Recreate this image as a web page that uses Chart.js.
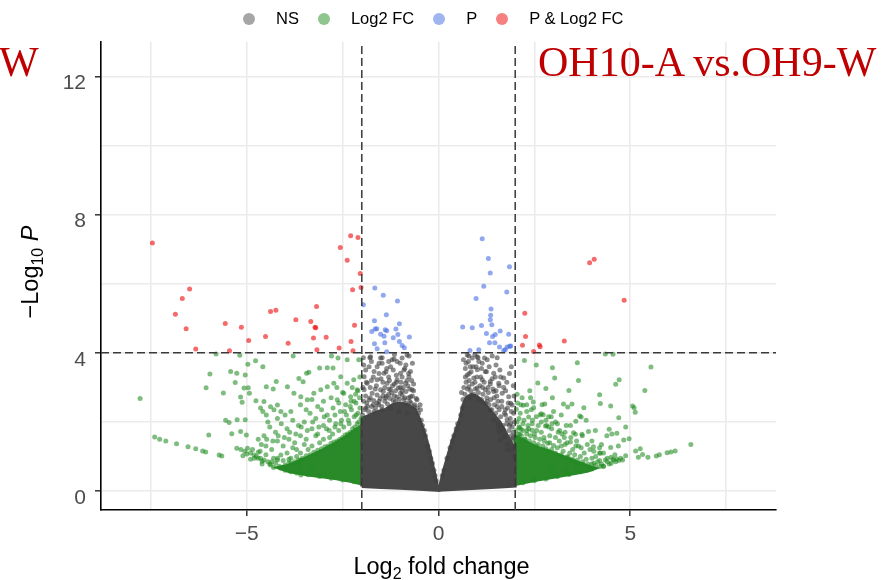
<!DOCTYPE html>
<html>
<head>
<meta charset="utf-8">
<script src="https://cdn.jsdelivr.net/npm/chart.js@4.4.1/dist/chart.umd.min.js"></script>
<style>
  body { margin: 0; background: #fff; }
  #wrap { position: relative; width: 885px; height: 580px; overflow: hidden; }
  #legend { position: absolute; left: 243px; top: 9px; display: flex; align-items: center;
            font: 16.5px "Liberation Sans", Arial, sans-serif; color: #000; white-space: nowrap; }
  #legend .dot { width: 12px; height: 12px; border-radius: 50%; margin-right: 21px; }
  #legend .lab { margin-right: 19px; }
  .tag { position: absolute; top: 41px; font: 42px/42px "Liberation Serif", "Times New Roman", serif;
         color: #c00000; white-space: nowrap; }
</style>
</head>
<body>
<div id="wrap">
  <canvas id="chart" width="885" height="580"></canvas>
  <div id="legend"></div>
  <div class="tag" style="left:-1px">W</div>
  <div class="tag" style="left:538px">OH10-A vs.OH9-W</div>
</div>
<script>
// axis ranges, cut-offs and ticks
const xRange = [-8.8, 8.8]
const yRange = [-0.55, 13]
const fcCut = 2
const pCut = 4
const xGrid = [-7.5, -5, -2.5, 0, 2.5, 5, 7.5]
const xLabels = [-5, 0, 5]
const yGrid = [0, 2, 4, 6, 8, 10, 12]
const yLabels = [0, 4, 8, 12]

const seriesNames = ['NS', 'Log2 FC', 'P', 'P & Log2 FC']

// P & Log2 FC  (x = log2 fold change, y = -log10 P)
const redPoints = [
  [-7.46,7.18],[-6.49,5.85],[-6.68,5.57],[-6.86,5.12],[-6.58,4.70],[-6.33,4.11],[-5.56,4.85],
  [-5.14,4.74],[-5.45,4.06],[-4.95,4.36],[-4.38,5.2],[-4.24,5.23],[-4.51,4.47],[-3.92,4.28],
  [-3.72,4.96],[-3.33,4.91],[-3.18,5.34],[-3.2,4.73],[-3.22,4.74],[-3.26,4.43],[-2.93,4.45],
  [-3.17,4.09],[-2.59,4.14],[-2.28,4.33],[-2.23,4.06],[-2.19,4.8],[-2.56,7.05],[-2.29,7.39],
  [-2.1,7.34],[-2.38,6.68],[-2.04,6.3],[-2.24,5.83],[-2.02,5.89],
  [2.25,5.15],[2.27,4.47],[2.19,4.22],[2.48,4.04],[2.63,4.23],[2.65,4.18],[3.28,4.34],
  [3.94,6.61],[4.06,6.71],[4.84,5.52]
]

// P only
const bluePoints = [
  [-1.66,5.88],[-1.44,5.67],[-1.07,5.5],[-1.96,5.39],[-1.36,5.1],[-1.67,4.93],[-1.02,4.84],
  [-1.74,4.62],[-1.65,4.69],[-1.61,4.7],[-1.39,4.67],[-1.35,4.64],[-1.11,4.69],[-1.51,4.54],
  [-1.42,4.48],[-1.18,4.44],[-1.06,4.53],[-0.76,4.46],[-1.67,4.26],[-1.4,4.29],[-1.02,4.33],
  [-0.95,4.21],[-0.89,4.15],[-1.6,4.12],[-1.35,4.03],
  [1.14,7.3],[1.3,6.73],[1.35,6.31],[1.85,6.49],[1.18,5.93],[1.78,5.76],[0.98,5.57],[1.37,5.27],
  [1.36,5.09],[0.63,4.75],[0.88,4.73],[1.12,4.79],[1.39,4.81],[1.35,4.96],[1.61,4.63],[1.25,4.56],
  [1.48,4.53],[1.41,4.47],[1.83,4.54],[1.33,4.29],[1.47,4.29],[1.59,4.17],[1.79,4.17],[1.88,4.2],
  [1.74,4.09],[0.82,4.07],[1.05,4.09],[1.7,4.07],[1.86,4.19]
]

// Log2 FC only (scattered part)
const greenPoints = [
  [-7.78,2.68],[-7.4,1.56],[-7.27,1.5],[-7.11,1.45],[-6.83,1.37],[-6.53,1.28],[-6.33,1.22],
  [-6.15,1.16],[-6.07,1.13],[-5.72,1.04],[-5.65,1.01],[-5.99,1.62],[-5.26,1.24],[-6.06,2.99],
  [-5.96,3.39],[-5.61,2.84],[-5.8,3.97],[-5.42,3.46],[-5.26,3.41],[-5.04,3.36],[-5.18,3.93],
  [-4.97,3.67],[-4.77,3.77],[-4.58,3.6],[-5.3,3.14],[-4.96,2.99],[-5.07,2.98],[-4.93,2.83],
  [-5.16,2.72],[-5.12,2.57],[-4.76,2.61],[-4.49,3.02],[-4.23,3.17],[-4.31,2.95],[-5.55,2.05],
  [-5.46,1.98],[-5.25,2.06],[-5.04,2.06],[-5.39,1.66],[-5.16,1.72],[-5.01,1.62],[-3.79,3.91],
  [-2.79,3.91],[-2.62,3.85],[-2.38,3.8],[-2.08,3.8],[-3.64,3.26],[-3.53,3.16],[-3.38,3.44],
  [-3.44,3.41],[-3.1,3.56],[-2.9,3.57],[-2.75,3.56],[-4.55,2.59],[-4.64,2.4],[-4.58,2.3],
  [-4.49,2.2],[-4.38,2.44],[-4.29,2.35],[-4.2,2.49],[-4.11,2.3],[-3.94,3.02],[-3.77,2.83],
  [-3.59,2.73],[-3.42,2.64],[-3.25,2.83],[-3.07,2.93],[-2.9,3.02],[-2.73,3.12],[-2.55,3.31],
  [-2.38,3.12],[-2.21,3.22],[-2.12,2.93],[-2.29,2.73],[-2.47,2.83],[-2.64,2.64],[-4.98,1.24],
  [-4.81,1.04],[-4.64,0.95],[-4.38,0.75],[-4.11,0.66],[-3.85,0.56],[-3.59,0.46],[-4.11,1.04],
  [-3.85,0.95],[-3.59,0.9],[-3.33,0.8],
  [-2.1,2.9],[-2.2,2.6],[-2.3,2.45],[-2.45,2.3],[-2.6,2.55],[-2.75,2.4],[-2.9,2.2],[-3.05,2.35],
  [-3.2,2.1],[-3.35,2.25],[-3.5,2.0],[-3.65,1.9],[-3.8,2.05],[-3.95,1.8],[-4.1,1.95],[-4.25,1.7],
  [-4.4,1.85],[-4.55,1.6],[-4.7,1.5],[-2.15,2.2],[-2.35,2.05],[-2.55,1.95],[-2.7,1.85],
  [-2.85,1.75],[-3.0,1.9],[-3.15,1.65],[-3.3,1.8],[-3.45,1.5],[-3.6,1.6],[-3.75,1.4],[-3.9,1.5],
  [-4.05,1.3],[-4.2,1.45],[-4.35,1.2],[-4.5,1.3],[-4.65,1.15],[-2.05,3.3],[-2.25,3.0],[-2.5,2.85],
  [-2.65,3.0],[-2.8,2.7],[-3.0,2.6],[-3.15,2.45],[-3.3,2.65],[-3.45,2.35],[-3.6,2.5],[-3.85,2.3],
  [-4.0,2.2],[-4.2,2.1],[-4.45,2.0],[-3.7,1.2],[-3.95,1.1],[-4.2,0.95],[-4.45,0.85],[-4.7,0.95],
  [-4.85,1.2],[-4.4,0.78],[-4.6,0.86],[-4.8,0.95],[-5.0,1.07],[-4.3,0.95],[-4.5,1.05],[-4.7,1.12],
  [-2.02,2.1],[-2.05,2.4],[-2.08,2.0],[-2.1,2.25],[-2.12,1.95],[-2.15,2.55],[-2.18,1.85],[-2.2,2.15],
  [-2.24,1.8],[-2.27,2.35],[-2.3,1.7],[-2.33,1.95],[-2.37,1.65],[-2.4,2.2],[-2.43,1.62],[-2.47,1.85],
  [-2.5,1.55],[-2.53,2.05],[-2.57,1.5],[-2.6,1.75],[-2.64,1.45],[-2.68,1.95],[-2.72,1.42],
  [-2.76,1.65],[-2.8,1.38],[-2.84,1.55],[-2.88,1.3],[-2.92,1.8],[-2.96,1.28],[-3.0,1.5],
  [-3.05,1.22],[-3.1,1.4],[-3.15,1.18],[-3.2,1.6],[-3.25,1.12],[-3.3,1.3],[-3.35,1.05],[-3.4,1.2],
  [-3.45,1.02],[-3.5,1.35],[-3.55,0.95],[-3.6,1.1],[-3.65,0.9],[-3.7,1.0],[-3.75,0.85],[-3.8,1.25],
  [-3.85,0.8],[-3.9,0.92],[-4.0,0.75],[-4.05,0.88],[-4.15,0.72],[-4.25,0.8],[-4.35,0.85],
  [-4.55,0.9],[-4.75,1.0],[-4.9,1.1],[-5.05,1.15],[-5.15,1.2],[-2.06,2.7],[-2.16,2.8],[-2.28,2.6],
  [-2.42,2.5],[-2.56,2.3],[-2.7,2.2],[-2.84,2.05],[-2.98,2.15],[-3.12,1.85],[-3.28,2.0],
  [-3.42,1.75],[-3.58,1.85],[-3.72,1.65],[-3.88,1.7],[-4.02,1.55],[-4.18,1.6],[-4.32,1.45],
  [-4.48,1.5],[-4.62,1.35],[-2.2,0.27],[-2.5,0.32],[-2.8,0.37],[-3.1,0.42],[-3.4,0.47],[-3.7,0.52],
  [-4.0,0.6],[-4.3,0.68],[-4.6,0.78],[-4.9,0.92],[-5.1,1.02],[-3.0,0.55],[-3.3,0.63],[-3.6,0.72],
  [-3.9,0.82],[-4.2,0.9],
  [4.35,3.97],[4.55,3.96],[5.54,3.59],[2.24,3.78],[2.55,3.65],[2.97,3.57],[3.62,3.71],[3.03,3.27],
  [2.59,3.13],[3.65,3.2],[4.71,3.22],[4.62,3.09],[5.38,2.91],[2.38,2.9],[2.8,2.97],[3.4,2.91],
  [2.97,2.7],[4.2,2.79],[2.21,2.48],[2.47,2.58],[2.77,2.52],[3.26,2.52],[3.48,2.52],[3.37,2.43],
  [3.79,2.41],[4.22,2.53],[4.49,2.46],[5.06,2.46],[5.1,2.41],[5.13,2.28],[4.7,2.12],[4.88,1.85],
  [6.58,1.35],[6.17,1.16],[6.06,1.13],[5.96,1.11],[5.76,1.05],[5.68,1.01],[5.46,0.98],[5.32,1.06],
  [5.26,1.22],[5.14,1.16],[5.21,0.98],[4.97,1.51],[4.83,1.48],[4.88,1.02],[4.65,0.93],[4.57,0.9],
  [4.49,1.26],[4.69,1.3],[4.39,1.6],[4.52,1.65],[4.65,1.67],[4.45,1.79],[4.09,1.75],[3.91,1.72],
  [3.74,1.64],[3.85,2.05],[3.72,2.14],[3.68,2.17],[3.58,2.02],[3.33,1.9],[3.44,1.9],[3.05,2.0],
  [2.79,1.88],[2.87,1.85],[3.16,1.75],[3.22,1.65],[3.52,1.69],[3.57,1.64],[2.94,2.15],[2.87,2.15],
  [2.68,2.24],[2.73,2.21],[2.48,2.41],[2.35,2.14],[2.31,1.75],[2.44,1.76],[2.03,2.37],[2.11,1.83],
  [2.15,1.79],[2.12,1.64],[2.48,0.38],[3.35,0.51],[4.22,0.72],[2.92,0.66],[3.61,0.8],[4.22,1.09],
  [3.35,0.99],[4.04,1.28],
  [2.1,2.1],[2.2,1.95],[2.35,1.8],[2.5,1.65],[2.6,1.9],[2.75,1.55],[2.9,1.4],[3.05,1.55],[3.2,1.3],
  [3.35,1.4],[3.5,1.2],[3.65,1.3],[3.8,1.1],[3.95,1.2],[4.1,1.0],[4.3,1.1],[2.15,2.5],[2.3,2.3],
  [2.45,2.05],[2.65,2.2],[2.8,2.05],[2.95,1.8],[3.1,1.95],[3.3,1.7],[3.45,1.55],[3.6,1.45],
  [3.75,1.6],[4.0,1.45],[4.25,1.35],[2.25,1.5],[2.55,1.3],[2.85,1.15],[3.15,1.0],[3.45,0.9],
  [3.75,0.85],[4.05,0.8],[4.4,0.85],[2.05,2.8],[2.4,2.7],[2.7,2.5],[3.0,2.3],[3.2,2.2],
  [4.3,0.72],[4.5,0.8],[4.7,0.88],[4.4,0.95],[4.6,1.05],[4.2,1.1],[4.0,0.95],
  [2.02,1.75],[2.05,2.0],[2.08,1.65],[2.1,1.85],[2.13,2.25],[2.16,1.6],[2.2,1.75],[2.23,2.05],
  [2.26,1.5],[2.3,1.65],[2.33,1.9],[2.37,1.45],[2.4,1.6],[2.44,1.95],[2.48,1.4],[2.52,1.55],
  [2.56,1.75],[2.6,1.35],[2.64,1.5],[2.68,1.7],[2.72,1.3],[2.76,1.45],[2.8,1.22],[2.85,1.38],
  [2.9,1.6],[2.95,1.2],[3.0,1.32],[3.05,1.1],[3.1,1.25],[3.15,1.45],[3.2,1.05],[3.25,1.15],
  [3.3,1.35],[3.38,0.98],[3.42,1.1],[3.5,0.92],[3.55,1.05],[3.62,0.9],[3.7,1.0],[3.78,0.78],
  [3.85,0.92],[3.92,0.7],[4.0,0.78],[4.1,0.74],[4.15,0.85],[4.25,0.78],[4.35,0.9],[4.45,0.78],
  [4.55,0.92],[4.62,0.85],[4.75,0.95],[4.8,0.9],[2.2,0.24],[2.5,0.3],[2.8,0.35],[3.1,0.42],
  [3.4,0.48],[3.7,0.56],[4.0,0.64],[4.3,0.72],[3.0,0.55],[3.3,0.62],[3.6,0.7],[3.9,0.78],
  [4.2,0.88],[4.5,0.98],[2.06,2.55],[2.18,2.7],[2.3,2.5],[2.42,2.35],[2.55,2.15],[2.68,2.0],
  [2.82,1.9],[2.96,1.95],[3.12,1.7],[3.28,1.55],[3.44,1.42],[3.58,1.3],[3.72,1.25],[3.88,1.35],
  [4.05,1.15],[4.2,1.25]
]

// NS (scattered part)
const grayPoints = [
  [-1.77,3.89],[-1.51,3.85],[-1.47,3.7],[-1.21,3.8],[-1.08,3.75],[-0.82,3.94],[-1.25,3.6],
  [-0.73,3.46],[-1.81,3.6],[-1.68,3.46],[-1.94,3.31],[-1.42,3.41],[-0.99,3.41],[-0.77,3.31],
  [-1.86,3.12],[-1.6,3.22],[-1.34,3.12],[-1.08,3.22],[-0.86,3.12],[-0.69,2.93],[-1.94,2.93],
  [-1.73,2.83],[-1.51,2.93],[-1.25,2.93],[-0.99,2.83],[-0.73,2.73],[-0.56,2.64],[-1.81,2.64],
  [-1.6,2.54],[-1.38,2.69],[-1.12,2.59],[-0.86,2.54],[-0.64,2.45],[-0.47,2.35],[-1.9,2.4],
  [-1.68,2.3],[-1.47,2.35],[-1.25,2.4],[-1.03,2.3],[-0.82,2.25],
  [-1.95,2.6],[-1.85,2.45],[-1.7,2.5],[-1.55,2.6],[-1.45,2.75],[-1.3,2.8],[-1.15,2.75],[-0.95,2.9],
  [-0.9,2.65],[-0.75,2.6],[-0.65,2.9],[-1.9,2.75],[-1.65,2.95],[-1.4,3.0],[-1.2,3.05],[-1.0,3.0],
  [-0.8,3.05],[-1.75,3.2],[-1.5,3.25],[-1.3,3.3],[-1.1,3.35],[-0.9,3.5],[-1.6,3.6],[-1.35,3.55],
  [-1.95,3.65],[-1.0,3.7],[-0.85,3.65],[-1.96,3.86],[-1.79,3.86],[-1.47,3.86],[-1.16,3.82],
  [-0.77,3.91],
  [-1.98,2.2],[-1.92,2.35],[-1.87,2.55],[-1.82,2.3],[-1.78,2.7],[-1.74,2.45],[-1.69,2.62],
  [-1.64,2.4],[-1.6,2.78],[-1.56,2.5],[-1.52,2.68],[-1.48,2.45],[-1.44,2.88],[-1.4,2.6],
  [-1.36,2.74],[-1.33,2.52],[-1.29,2.95],[-1.26,2.68],[-1.22,2.84],[-1.18,2.62],[-1.15,3.1],
  [-1.12,2.9],[-1.08,2.72],[-1.05,2.98],[-1.02,2.66],[-0.98,3.15],[-0.95,2.78],[-0.92,3.0],
  [-0.88,2.7],[-0.85,2.88],[-0.82,3.2],[-0.78,2.7],[-0.75,2.95],[-0.72,2.55],[-0.68,2.75],
  [-0.65,3.1],[-0.62,2.5],[-0.58,2.68],[-0.55,2.4],[-0.52,2.25],[-0.48,2.5],[-0.45,2.05],
  [-0.42,1.9],[-0.37,1.75],[-0.34,1.6],[-1.97,3.0],[-1.88,3.15],[-1.78,3.0],[-1.7,3.3],
  [-1.62,3.05],[-1.55,3.4],[-1.45,3.15],[-1.37,3.45],[-1.28,3.2],[-1.18,3.5],[-1.1,3.15],
  [-0.95,3.3],[-0.88,3.55],[-0.78,3.4],[-0.7,3.2],[-1.9,3.5],[-1.75,3.75],[-1.55,3.7],[-1.3,3.75],
  [-1.15,3.95],[-0.95,3.85],[-0.68,3.7],[-0.28,1.3],[-0.24,1.15],[-0.2,0.95],[-0.16,0.8],
  [-0.12,0.6],[-0.09,0.45],[-0.06,0.3],
  [0.75,3.94],[0.88,3.85],[1.01,3.89],[1.14,3.7],[1.27,3.8],[0.83,3.6],[1.01,3.51],[1.22,3.46],
  [1.44,3.41],[0.75,3.36],[0.92,3.27],[1.14,3.22],[1.35,3.17],[1.57,3.12],[1.7,3.27],[1.88,2.54],
  [1.92,2.49],[0.79,3.02],[1.01,2.98],[1.22,2.93],[1.44,2.88],[1.66,2.83],[1.83,2.73],[0.83,2.69],
  [1.05,2.64],[1.27,2.59],[1.53,2.45],[1.74,2.35],[1.96,2.25],[1.88,1.96],[1.7,1.77],[1.92,1.48],
  [1.79,1.19],[1.61,1.48],[1.96,0.99],[1.44,2.06],[1.57,1.82],[1.79,2.06],[1.35,2.35],
  [1.95,1.7],[1.85,1.9],[1.75,2.2],[1.65,2.45],[1.55,2.6],[1.45,2.7],[1.3,2.85],[1.15,3.0],
  [0.95,3.15],[0.8,3.2],[0.7,3.3],[1.1,3.3],[1.25,3.45],[0.9,3.6],[1.05,3.75],[1.6,3.5],
  [1.85,3.4],[1.95,3.05],[1.75,2.9],[1.5,2.9],[1.35,3.1],[0.7,3.55],[0.65,3.8],[1.9,2.3],
  [1.98,2.0],[1.8,1.35],[1.7,1.55],[1.6,1.7],[1.9,1.2],[0.79,3.91],[1.03,3.86],[1.4,3.91],
  [1.53,3.86],
  [1.98,1.3],[1.95,1.55],[1.92,1.85],[1.9,1.6],[1.87,2.1],[1.84,1.75],[1.8,2.4],[1.78,1.95],
  [1.74,1.6],[1.72,2.25],[1.68,1.9],[1.65,2.6],[1.62,2.15],[1.58,2.35],[1.55,1.95],[1.52,2.75],
  [1.49,2.25],[1.46,2.5],[1.42,2.95],[1.39,2.35],[1.36,2.65],[1.32,2.5],[1.29,3.0],[1.26,2.7],
  [1.22,2.55],[1.19,3.15],[1.16,2.8],[1.12,2.65],[1.08,3.05],[1.04,2.85],[1.0,3.3],[0.96,2.95],
  [0.92,2.8],[0.88,3.1],[0.84,2.9],[0.8,3.4],[0.76,2.95],[0.72,3.15],[0.69,2.8],[0.66,3.0],
  [0.64,2.65],[0.62,2.4],[0.6,2.85],[0.58,2.2],[0.5,1.95],[0.46,1.8],[0.4,1.6],[0.36,1.45],
  [0.3,1.25],[0.22,0.95],[0.14,0.6],[0.1,0.45],[0.72,3.7],[0.85,3.45],[0.98,3.6],[1.12,3.55],
  [1.2,3.85],[1.32,3.6],[1.5,3.65],[1.62,3.3],[1.78,3.15],[1.9,3.6],[1.97,2.75],[1.82,2.55],
  [1.7,3.0],[1.58,3.05],[1.48,3.3],[1.4,3.25],[0.78,3.75],[0.95,3.95]
]

// outlines of the areas where the points overlap into a solid mass
const nsCoreLeft = [
  [-2.0,0.13],[-2.0,2.1],[-1.8,2.2],[-1.6,2.3],[-1.4,2.35],[-1.2,2.5],[-1.0,2.55],[-0.8,2.5],
  [-0.6,2.35],[-0.5,2.1],[-0.4,1.8],[-0.3,1.45],[-0.22,1.1],[-0.15,0.75],[-0.08,0.4],
  [-0.02,0.1],[0,0.02],[-0.5,0.05],[-1.0,0.08],[-1.5,0.1],[-2.0,0.13]
]
const nsCoreRight = [
  [0,0.02],[0.5,0.05],[1.0,0.08],[1.5,0.11],[2.0,0.14],[2.0,1.2],[1.9,1.4],[1.75,1.7],[1.6,2.0],
  [1.45,2.2],[1.3,2.4],[1.15,2.6],[1.0,2.75],[0.85,2.8],[0.72,2.7],[0.64,2.5],[0.56,2.1],
  [0.45,1.75],[0.34,1.4],[0.25,1.05],[0.16,0.7],[0.08,0.35],[0.02,0.1],[0,0.02]
]
const fcCoreLeft = [
  [-2.0,0.2],[-2.0,1.9],[-2.2,1.75],[-2.45,1.55],[-2.7,1.38],[-3.0,1.2],[-3.4,0.99],[-3.9,0.75],
  [-4.2,0.68],[-3.9,0.56],[-3.4,0.46],[-2.7,0.36],[-2.3,0.28],[-2.0,0.2]
]
const fcCoreRight = [
  [2.0,0.19],[2.0,1.6],[2.25,1.45],[2.5,1.3],[2.9,1.15],[3.3,0.98],[3.6,0.85],[3.9,0.72],
  [4.1,0.66],[3.9,0.58],[3.6,0.51],[3.0,0.4],[2.5,0.3],[2.0,0.19]
]

const colors = {
  ns: 'rgba(64, 64, 64, 0.6)',
  fc: 'rgba(34, 139, 34, 0.58)',
  p: 'rgba(65, 105, 225, 0.58)',
  both: 'rgba(238, 0, 0, 0.58)'
}
const legendColors = ['#a6a6a6', '#90c590', '#a0b4f0', '#f67f7f']

const xy = arr => arr.map(([x, y]) => ({x, y}))

function points(label, data, color, order) {
  return { label, data: xy(data), backgroundColor: color, borderWidth: 0,
           pointRadius: 2.5, pointHoverRadius: 2.5, order }
}
function core(data, color) {
  return { label: '', data: xy(data), showLine: true, fill: 'shape', tension: 0,
           backgroundColor: color, borderColor: color, borderWidth: 3, pointRadius: 0, order: 9 }
}
function cutLine(data) {
  return { label: '', data: xy(data), showLine: true, borderColor: '#3a3a3a', borderWidth: 1.5,
           borderDash: [8, 4], pointRadius: 0, fill: false, order: 0 }
}

const fmt = v => v < 0 ? '\u2212' + Math.abs(v) : String(v)

// axis titles with subscripts and italic P
const axisTitles = {
  id: 'axisTitles',
  afterDraw(chart) {
    const ctx = chart.ctx
    const fam = '"Liberation Sans", Arial, sans-serif'
    const runs = (parts, cx, base) => {
      let w = 0
      parts.forEach(p => { ctx.font = p.font; w += ctx.measureText(p.t).width })
      let x = cx - w / 2
      parts.forEach(p => {
        ctx.font = p.font
        ctx.fillText(p.t, x, base + (p.dy || 0))
        x += ctx.measureText(p.t).width
      })
    }
    ctx.save()
    ctx.fillStyle = '#000'
    ctx.textBaseline = 'alphabetic'
    ctx.textAlign = 'left'
    const a = chart.chartArea
    runs([
      {t: 'Log', font: '23.5px ' + fam},
      {t: '2', font: '16px ' + fam, dy: 5},
      {t: ' fold change', font: '23.5px ' + fam}
    ], (a.left + a.right) / 2 + 3, 574)
    ctx.translate(38, 272)
    ctx.rotate(-Math.PI / 2)
    runs([
      {t: '\u2212Log', font: '23.5px ' + fam},
      {t: '10', font: '16px ' + fam, dy: 5},
      {t: ' ', font: '23.5px ' + fam},
      {t: 'P', font: 'italic 23.5px ' + fam}
    ], 0, 0)
    ctx.restore()
  }
}

const tickFont = { family: '"Liberation Sans", Arial, sans-serif', size: 21 }

const chart = new Chart(document.getElementById('chart').getContext('2d'), {
  type: 'scatter',
  data: {
    datasets: [
      cutLine([[-fcCut, yRange[0]], [-fcCut, yRange[1]]]),
      cutLine([[fcCut, yRange[0]], [fcCut, yRange[1]]]),
      cutLine([[xRange[0], pCut], [xRange[1], pCut]]),
      points(seriesNames[3], redPoints, colors.both, 1),
      points(seriesNames[2], bluePoints, colors.p, 2),
      points(seriesNames[1], greenPoints, colors.fc, 3),
      points(seriesNames[0], grayPoints, colors.ns, 4),
      core(nsCoreLeft, '#474747'),
      core(nsCoreRight, '#474747'),
      core(fcCoreLeft, '#2a8a2a'),
      core(fcCoreRight, '#2a8a2a')
    ]
  },
  options: {
    responsive: false,
    animation: false,
    layout: { padding: { top: 42, right: 109, left: 0, bottom: 0 } },
    plugins: { legend: { display: false }, tooltip: { enabled: false } },
    scales: {
      x: {
        type: 'linear', min: xRange[0], max: xRange[1],
        afterFit: s => { s.height = 70 },
        afterBuildTicks: s => { s.ticks = xGrid.map(value => ({value})) },
        grid: {
          color: '#ebebeb', lineWidth: 1.6, tickLength: 6, tickWidth: 1.5,
          tickColor: c => xLabels.includes(c.tick && c.tick.value) ? '#333' : 'rgba(0,0,0,0)'
        },
        border: { display: true, color: '#000', width: 1.6 },
        ticks: {
          autoSkip: false, maxRotation: 0, padding: 6, color: '#4d4d4d', font: tickFont,
          callback: v => xLabels.includes(v) ? fmt(v) : ''
        }
      },
      y: {
        type: 'linear', min: yRange[0], max: yRange[1],
        afterFit: s => { s.width = 101 },
        afterBuildTicks: s => { s.ticks = yGrid.map(value => ({value})) },
        grid: {
          color: '#ebebeb', lineWidth: 1.6, tickLength: 6, tickWidth: 1.5,
          tickColor: c => yLabels.includes(c.tick && c.tick.value) ? '#333' : 'rgba(0,0,0,0)'
        },
        border: { display: true, color: '#000', width: 1.6 },
        ticks: {
          autoSkip: false, padding: 9, labelOffset: 7, color: '#4d4d4d', font: tickFont,
          callback: v => yLabels.includes(v) ? fmt(v) : ''
        }
      }
    }
  },
  plugins: [axisTitles]
})

// html legend for the four series
const legend = document.getElementById('legend')
seriesNames.forEach((name, i) => {
  const dot = document.createElement('span')
  dot.className = 'dot'
  dot.style.background = legendColors[i]
  const lab = document.createElement('span')
  lab.className = 'lab'
  lab.textContent = name
  legend.append(dot, lab)
})
</script>
</body>
</html>
